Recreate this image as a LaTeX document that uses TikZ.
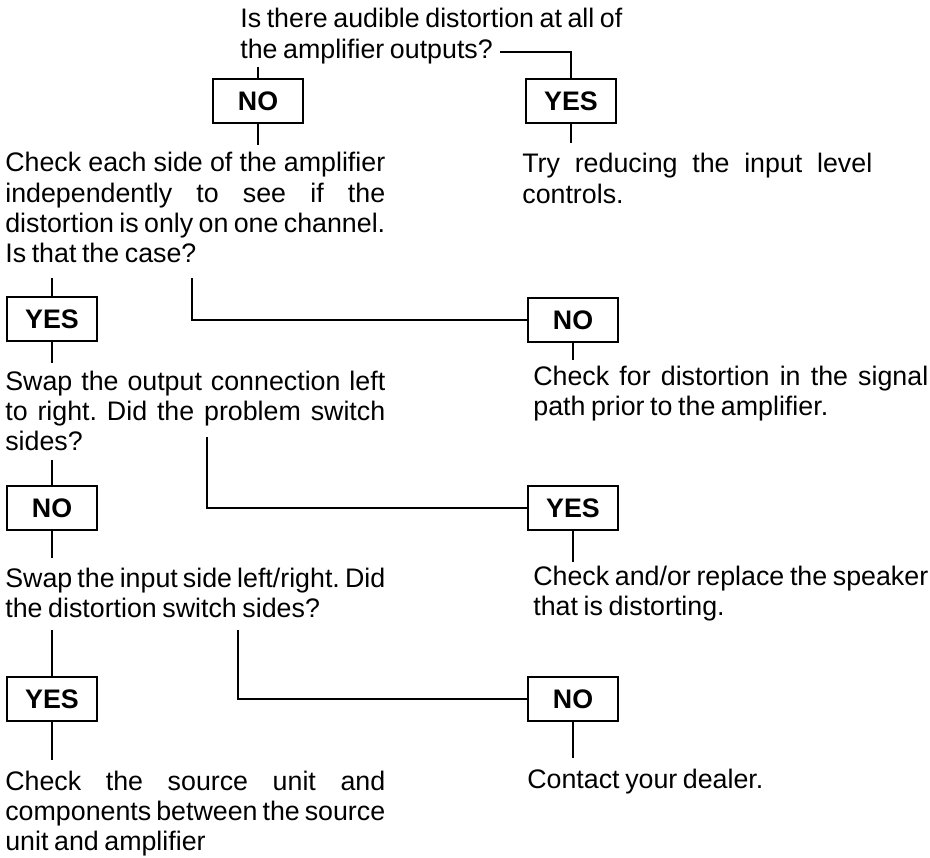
\documentclass[tikz,border=0pt]{standalone}
\usepackage{fontspec}
\setmainfont[WordSpace=0.75]{Liberation Sans}
\usetikzlibrary{positioning}
\newcommand{\fullline}[2][7.6cm]{\makebox[#1][s]{#2}}
\tikzset{
	answer/.style={
		rectangle,
		minimum width=1.8cm,
		minimum height=0.88cm,
		text centered,
		draw=black,
		line width=1.2pt,
		font=\fontsize{15.25pt}{17pt}\selectfont\bfseries
	},
	question/.style={
		anchor=base west,
		inner sep=0pt,
		text width=8.2cm,
		align=flush left,
		font=\fontsize{15.25pt}{17.1pt}\selectfont\frenchspacing
	},
	remedy/.style={
		anchor=base west,
		inner sep=0pt,
		text width=8.4cm,
		align=flush left,
		font=\fontsize{15.25pt}{17.1pt}\selectfont\frenchspacing
	},
	line/.style={line width=1.2pt}
}

\begin{document}
\begin{tikzpicture}[x=0.02cm, y=-0.02cm]
	\useasboundingbox (0,0) rectangle (930,858);

	\node (q1) [question] at (240,28) {Is there audible distortion at all of\\the amplifier outputs?};
	\node (no1) [answer] at (258,101) {NO};
	\node (yes1) [answer] at (571,101) {YES};
	\node (try) [remedy] at (522,173) {\fullline[7cm]{Try reducing the input level}\\controls.};

	\node (q2) [question] at (5,172) {\fullline{Check each side of the amplifier}\\\fullline{independently to see if the}\\\fullline{distortion is only on one channel.}\\Is that the case?};
	\node (yes2) [answer] at (52,319) {YES};
	\node (no2) [answer] at (573,320) {NO};
	\node (path) [remedy] at (533,385) {\fullline[7.9cm]{Check for distortion in the signal}\\path prior to the amplifier.};

	\node (q3) [question] at (5,390) {\fullline{Swap the output connection left}\\\fullline{to right. Did the problem switch}\\sides?};
	\node (no3) [answer] at (52,508) {NO};
	\node (yes3) [answer] at (573,508) {YES};
	\node (speaker) [remedy] at (533,585) {\fullline[7.9cm]{Check and/or replace the speaker}\\that is distorting.};

	\node (q4) [question] at (5,587) {\fullline{Swap the input side left/right. Did}\\the distortion switch sides?};
	\node (yes4) [answer] at (52,699) {YES};
	\node (no4) [answer] at (573,699) {NO};
	\node (source) [question] at (5,790) {\fullline{Check the source unit and}\\\fullline{components between the source}\\unit and amplifier};
	\node (dealer) [remedy] at (527,788) {Contact your dealer.};

	% free ends of the connectors
	\coordinate (q1end) at (500,52);
	\coordinate (no1top) at (258,67);
	\coordinate (no1foot) at (258,145);
	\coordinate (yes1foot) at (571,143);
	\coordinate (q2yes) at (52,278);
	\coordinate (q2no) at (192,278);
	\coordinate (yes2foot) at (52,363);
	\coordinate (no2foot) at (573,360);
	\coordinate (q3no) at (52,460);
	\coordinate (q3yes) at (207,437);
	\coordinate (no3foot) at (52,558);
	\coordinate (yes3foot) at (573,562);
	\coordinate (q4yes) at (52,630);
	\coordinate (q4no) at (238,630);
	\coordinate (yes4foot) at (52,760);
	\coordinate (no4foot) at (573,758);

	\draw [line] (no1top) -- (no1);
	\draw [line] (no1) -- (no1foot);
	\draw [line] (q1end) -| (yes1);
	\draw [line] (yes1) -- (yes1foot);
	\draw [line] (q2yes) -- (yes2);
	\draw [line] (yes2) -- (yes2foot);
	\draw [line] (q2no) |- (no2);
	\draw [line] (no2) -- (no2foot);
	\draw [line] (q3no) -- (no3);
	\draw [line] (no3) -- (no3foot);
	\draw [line] (q3yes) |- (yes3);
	\draw [line] (yes3) -- (yes3foot);
	\draw [line] (q4yes) -- (yes4);
	\draw [line] (yes4) -- (yes4foot);
	\draw [line] (q4no) |- (no4);
	\draw [line] (no4) -- (no4foot);
\end{tikzpicture}
\end{document}
